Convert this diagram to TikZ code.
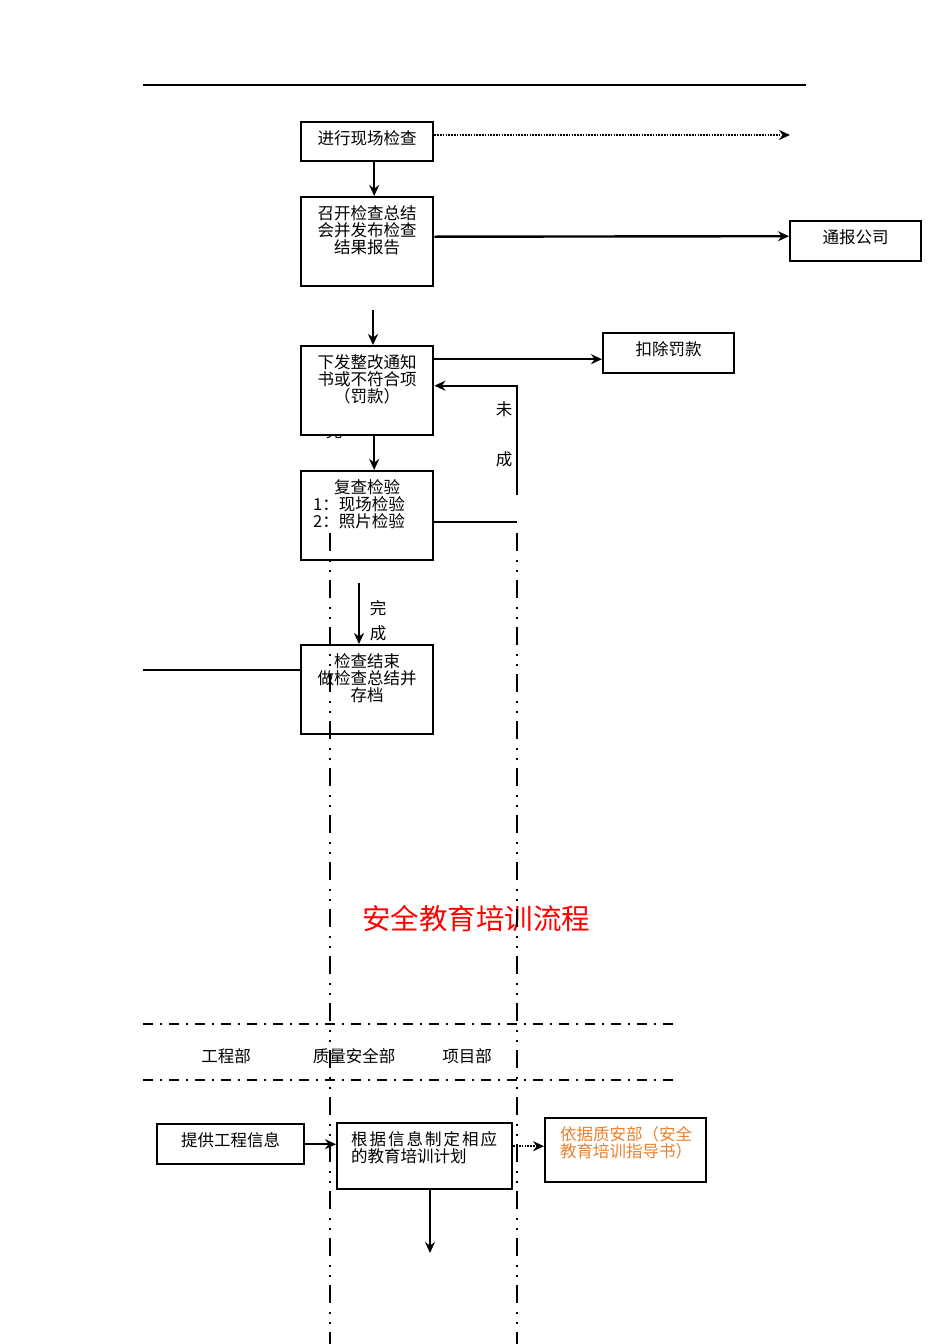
\documentclass[tikz,border=0pt]{standalone}
\usepackage{fontspec}
\usetikzlibrary{arrows.meta}
\setmainfont{Noto Sans CJK SC}
\newcommand{\boxlines}[3]{\parbox[t][#2][t]{#1}{\vspace*{8pt}#3}}
\tikzset{
  stepbox/.style={draw,line width=2.4pt,inner sep=0pt,anchor=north west},
  link/.style={line width=2.4pt},
  arr/.style={-{Stealth[length=11pt,width=10pt]},line width=2.4pt},
  dotarr/.style={-{Stealth[length=11pt,width=10pt]},line width=2.4pt,dash pattern=on 1.6pt off 1.2pt},
  vlane/.style={line width=2.2pt,dash pattern=on 18pt off 9pt on 2pt off 8pt on 2pt off 8pt},
  hlane/.style={line width=2.2pt,dash pattern=on 10pt off 7pt on 2pt off 7pt},
}
\definecolor{guideorange}{RGB}{232,128,46}
\begin{document}
\begin{tikzpicture}[x=1pt,y=-1pt,font=\fontsize{16.5}{17}\selectfont]
\useasboundingbox (0,0) rectangle (950,1344);
\draw[line width=1.1pt] (143,85) -- (806,85);

% inspection flow
\node (cutoff) at (334,431) {完};
\node[stepbox] (check) at (300,121) {\boxlines{132pt}{39pt}{\centering 进行现场检查}};
\node[stepbox] (summary) at (300,196) {\boxlines{132pt}{89pt}{\centering 召开检查总结\\会并发布检查\\结果报告}};
\node[stepbox,fill=white] (notice) at (300,345) {\boxlines{132pt}{89pt}{\centering 下发整改通知\\书或不符合项\\（罚款）}};
\node[stepbox] (recheck) at (300,470) {\boxlines{132pt}{89pt}{{\centering 复查检验\par}\hspace*{12pt}1：现场检验\\\hspace*{12pt}2：照片检验}};
\node[stepbox] (finish) at (300,644) {\boxlines{132pt}{89pt}{\centering 检查结束\\做检查总结并\\存档}};
\node[stepbox] (report) at (789,220) {\boxlines{131pt}{40pt}{\centering 通报公司}};
\node[stepbox] (fine) at (602,332) {\boxlines{131pt}{40pt}{\centering 扣除罚款}};

\coordinate (farOut) at (790,135);
\coordinate (noticeIn) at (373,310);
\coordinate (fineIn) at ([yshift=-6pt]fine.west);
\coordinate (loopEnd) at (517,495);
\coordinate (recheckOut) at ([yshift=-6pt]recheck.east);
\coordinate (doneTop) at (359,583);
\coordinate (leftEnd) at (143,670);

\draw[dotarr] (check.east |- farOut) -- (farOut);
\draw[arr] ([xshift=7pt]check.south) -- ([xshift=7pt]summary.north);
\draw[arr] ([yshift=5pt]summary.east) -- ([yshift=5pt]report.west);
\draw[arr] (noticeIn) -- (noticeIn |- notice.north);
\draw[arr] (notice.east |- fineIn) -- (fineIn);
\draw[arr] ([xshift=7pt]notice.south) -- ([xshift=7pt]recheck.north);
\draw[arr] (loopEnd) |- ([yshift=5pt]notice.east);
\draw[link] (recheckOut) -- (recheckOut -| loopEnd);
\draw[arr] (doneTop) -- (doneTop |- finish.north);
\draw[link] (leftEnd) -- (leftEnd -| finish.west);

\node (notA) at (504,409) {未};
\node (notB) at (504,459) {成};
\node (doneA) at (378,608) {完};
\node (doneB) at (378,633) {成};

% training flow
\node[text=red,font=\fontsize{28.5}{30}\selectfont] (title) at (476,919) {安全教育培训流程};
\node (deptA) at (226,1056) {工程部};
\node (deptB) at (354,1056) {质量安全部};
\node (deptC) at (467,1056) {项目部};

\node[stepbox] (info) at (156,1123) {\boxlines{147pt}{40pt}{\centering 提供工程信息}};
\node[stepbox] (plan) at (336,1122) {\boxlines{175pt}{66pt}{\hspace*{14pt}{\addfontfeature{LetterSpace=12}根据信息制定相应}\\\hspace*{14pt}的教育培训计划}};
\node[stepbox,text=guideorange] (guide) at (544,1117) {\boxlines{161pt}{64pt}{\hspace*{15pt}依据质安部（安全\\\hspace*{15pt}教育培训指导书）}};

\coordinate (planOut) at ([yshift=10pt]plan.east);
\coordinate (planDown) at (430,1253);
\draw[arr] (info.east) -- (info.east -| plan.west);
\draw[dotarr] (planOut) -- (planOut -| guide.west);
\draw[arr] (planDown |- plan.south) -- (planDown);

% lanes
\draw[vlane] (330,533) -- (330,1344);
\draw[vlane] (517,533) -- (517,1344);
\draw[hlane] (143,1024) -- (676,1024);
\draw[hlane] (143,1080) -- (676,1080);
\end{tikzpicture}
\end{document}
